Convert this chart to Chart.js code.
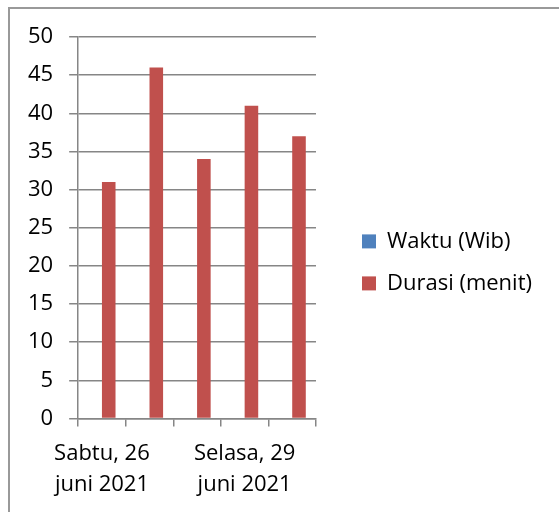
<!DOCTYPE html>
<html>
<head>
<meta charset="utf-8">
<script src="https://cdn.jsdelivr.net/npm/chart.js@4/dist/chart.umd.min.js"></script>
<style>
  html, body { margin: 0; padding: 0; background: #ffffff; overflow: hidden; }
  #frame { position: absolute; left: 8px; top: 7px; width: 700px; height: 700px;
           border-left: 2px solid #999999; border-top: 2px solid #999999; }
  #c { position: absolute; left: 0; top: 0; }
</style>
</head>
<body>
<div id="frame"></div>
<canvas id="c" width="559" height="512"></canvas>
<script>
const categories = [
  ["Sabtu, 26", "juni 2021"],
  ["Minggu, 27", "juni 2021"],
  ["Senin, 28", "juni 2021"],
  ["Selasa, 29", "juni 2021"],
  ["Rabu, 30", "juni 2021"]
];
const seriesNames = ["Waktu (Wib)", "Durasi (menit)"];
const waktuValues = [null, null, null, null, null];
const durasiValues = [31, 46, 34, 41, 37];
const yTicks = [0, 5, 10, 15, 20, 25, 30, 35, 40, 45, 50];

const FONT = "'Open Sans', 'Noto Sans', sans-serif";
const GRID = '#868686';

// let the right-hand legend be as wide as its labels need
const wideLegend = {
  id: 'wideLegend',
  afterInit(chart) {
    const lg = chart.legend;
    if (!lg) return;
    const orig = lg.update.bind(lg);
    lg.update = (mw, mh, m) => orig(Math.max(mw, 240), mh, m);
  }
};

new Chart(document.getElementById('c'), {
  type: 'bar',
  data: {
    labels: categories,
    datasets: [
      { label: seriesNames[0], data: waktuValues, backgroundColor: '#4F81BD', borderWidth: 0,
        categoryPercentage: 0.571, barPercentage: 1.0 },
      { label: seriesNames[1], data: durasiValues, backgroundColor: '#C0504D', borderWidth: 0,
        categoryPercentage: 0.571, barPercentage: 1.0 }
    ]
  },
  plugins: [wideLegend],
  options: {
    responsive: false,
    animation: false,
    devicePixelRatio: 1,
    layout: { padding: { left: 12, top: 37, right: 17, bottom: 0 } },
    plugins: {
      tooltip: { enabled: false },
      legend: {
        position: 'right',
        align: 'start',
        title: { display: true, text: '', font: { size: 12, lineHeight: 1.2 },
                 padding: { top: 159, bottom: 0 } },
        labels: {
          font: { family: FONT, size: 22 },
          color: '#000000',
          boxWidth: 14,
          boxHeight: 14,
          padding: 20
        }
      }
    },
    scales: {
      x: {
        offset: true,
        grid: { display: true, offset: true, drawOnChartArea: false, drawTicks: true,
                tickLength: 8, color: GRID, lineWidth: 1.5 },
        border: { display: true, color: GRID, width: 1.5 },
        ticks: {
          autoSkip: false, maxRotation: 0, minRotation: 0, padding: 12,
          color: '#000000',
          font: { family: FONT, size: 22, lineHeight: 1.4 },
          callback: function (value, index) {
            return index % 3 === 0 ? this.getLabelForValue(value) : '';
          }
        }
      },
      y: {
        min: 0, max: 50,
        afterBuildTicks: (s) => { s.ticks = yTicks.map(v => ({ value: v })); },
        grid: { color: GRID, lineWidth: 1.5, tickLength: 9, drawTicks: true },
        border: { display: true, color: GRID, width: 1.5 },
        ticks: { padding: 16, color: '#000000', font: { family: FONT, size: 22 } }
      },
      y2: {
        position: 'right',
        display: true,
        grid: { display: false },
        border: { display: false },
        ticks: { display: false },
        afterFit: (s) => { s.width = 26; }
      }
    }
  }
});
</script>
</body>
</html>
